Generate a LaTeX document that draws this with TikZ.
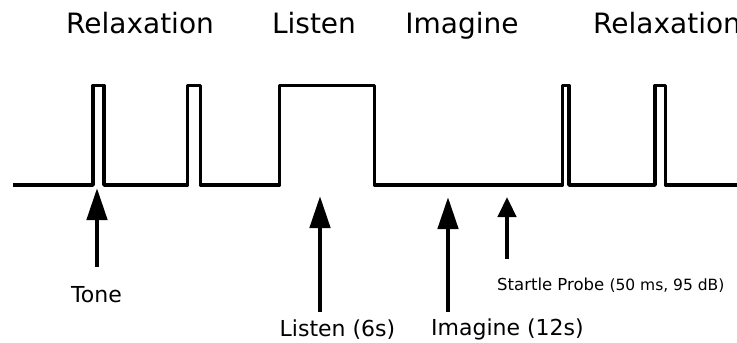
\documentclass[tikz,border=0pt]{standalone}
\usepackage{fontspec}
\setmainfont{DejaVu Sans}
\usetikzlibrary{arrows.meta}
\begin{document}
\begin{tikzpicture}[x=1pt,y=-1pt,
  wave/.style={line width=3.8pt,line join=round},
  bigarrow/.style={line width=4.6pt,-{Triangle[length=32pt,width=20pt]}},
  smallarrow/.style={line width=4.6pt,-{Triangle[length=20pt,width=18pt]}},
  toplabel/.style={inner sep=0pt,font=\fontsize{28}{30}\selectfont},
  botlabel/.style={inner sep=0pt,font=\fontsize{22}{24}\selectfont},
  probelabel/.style={inner sep=0pt,font=\fontsize{16.5}{18}\selectfont}]
\useasboundingbox (0,0) rectangle (737,343);
\fill[white] (0,0) rectangle (737,343);
% top labels
\node[toplabel,anchor=base] (relax1) at (140,33) {Relaxation};
\node[toplabel,anchor=base] (listenT) at (314,33) {Listen};
\node[toplabel,anchor=base] (imagineT) at (462,33) {Imagine};
\node[toplabel,anchor=base west] (relax2) at (593,33) {Relaxation};
% waveform
\draw[wave] (13,185) -- (93,185) -- (93,85.5) -- (104,85.5) -- (104,185)
  -- (187.5,185) -- (187.5,85.5) -- (200.5,85.5) -- (200.5,185)
  -- (279.5,185) -- (279.5,85.5) -- (374.5,85.5) -- (374.5,185)
  -- (562.5,185) -- (562.5,85.5) -- (569,85.5) -- (569,185)
  -- (655,185) -- (655,85.5) -- (665.5,85.5) -- (665.5,185) -- (740,185);
% arrows
\coordinate (toneTip) at (97,188);
\coordinate (toneTail) at (97,267);
\coordinate (listenTip) at (320,196);
\coordinate (listenTail) at (320,312);
\coordinate (imagineTip) at (448,197);
\coordinate (imagineTail) at (448,312);
\coordinate (probeTip) at (507,197);
\coordinate (probeTail) at (507,259);
\draw[bigarrow] (toneTail) -- (toneTip);
\draw[bigarrow] (listenTail) -- (listenTip);
\draw[bigarrow] (imagineTail) -- (imagineTip);
\draw[smallarrow] (probeTail) -- (probeTip);
% bottom labels
\node[botlabel,anchor=base] (tone) at (96.5,302) {Tone};
\node[botlabel,anchor=base] (listenB) at (337.5,336) {Listen (6s)};
\node[botlabel,anchor=base west] (imagineB) at (431,335) {Imagine (12s)};
\node[probelabel,anchor=base west] (probe) at (497,290) {Startle Probe {\fontsize{15.5}{17}\selectfont (50 ms, 95 dB)}};
\end{tikzpicture}
\end{document}
